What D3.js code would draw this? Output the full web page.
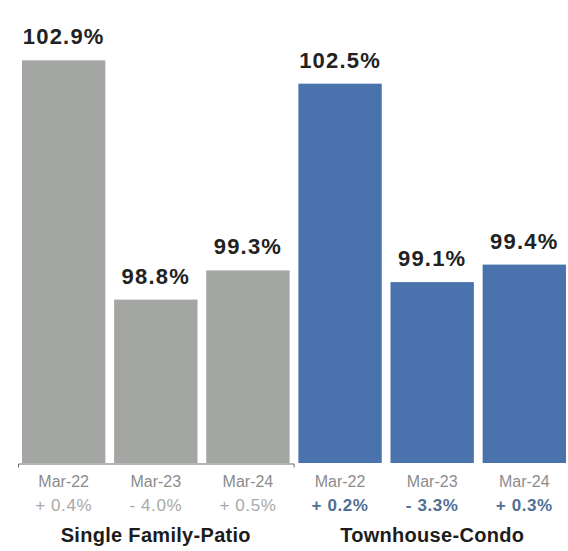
<!DOCTYPE html>
<html>
<head>
<meta charset="utf-8">
<script src="https://cdn.jsdelivr.net/npm/d3@7"></script>
<style>
  html, body { margin: 0; padding: 0; background: #fff; }
  svg { display: block; font-family: "Liberation Sans", Arial, Helvetica, sans-serif; }
</style>
</head>
<body>
<svg id="chart" width="568" height="551"></svg>
<script>
// Sale-to-list price ratio by property type, March of each year
const groups = ["Single Family-Patio", "Townhouse-Condo"];
const periods = ["Mar-22", "Mar-23", "Mar-24"];
const singleFamily = [102.9, 98.8, 99.3];
const townhouse = [102.5, 99.1, 99.4];
const singleFamilyChange = ["+ 0.4%", "- 4.0%", "+ 0.5%"];
const townhouseChange = ["+ 0.2%", "- 3.3%", "+ 0.3%"];

const groupValues = [singleFamily, townhouse];
const groupChanges = [singleFamilyChange, townhouseChange];
const groupColors = ["#a4a6a3", "#4a72ad"];
const changeStyles = [
  { fill: "#a9a9a9", weight: 400 },
  { fill: "#4f6f95", weight: 700 }
];

const rows = [];
groups.forEach((g, gi) => {
  periods.forEach((p, pi) => {
    rows.push({
      key: g + "|" + p,
      group: gi,
      period: p,
      value: groupValues[gi][pi],
      change: groupChanges[gi][pi]
    });
  });
});

const svg = d3.select("#chart");
const baseline = 463;

const x = d3.scaleBand()
  .domain(rows.map(d => d.key))
  .range([22, 566])
  .paddingInner(0.095)
  .paddingOuter(0);

const y = d3.scaleLinear()
  .domain([96, 103])
  .range([baseline, 54.5]);

// bars
svg.append("g")
  .selectAll("rect")
  .data(rows)
  .join("rect")
  .attr("x", d => x(d.key))
  .attr("y", d => y(d.value))
  .attr("width", x.bandwidth())
  .attr("height", d => baseline - y(d.value))
  .attr("fill", d => groupColors[d.group]);

// value labels above bars
svg.append("g")
  .selectAll("text")
  .data(rows)
  .join("text")
  .attr("x", d => x(d.key) + x.bandwidth() / 2)
  .attr("y", d => y(d.value) - 16)
  .attr("text-anchor", "middle")
  .attr("font-size", 22)
  .attr("font-weight", 700)
  .attr("letter-spacing", 1.2)
  .attr("fill", "#222")
  .text(d => d.value.toFixed(1) + "%");

// baseline under the first group
const firstKeys = rows.filter(d => d.group === 0).map(d => d.key);
const axisSpan = d3.scaleLinear()
  .domain([0, 1])
  .range([18, x(firstKeys[firstKeys.length - 1]) + x.bandwidth() + 4]);
const axisG = svg.append("g")
  .attr("transform", `translate(0,${baseline + 0.5})`)
  .call(d3.axisBottom(axisSpan).tickValues([]).tickSizeOuter(4));
axisG.select(".domain").attr("stroke", "#6a6a6a").attr("stroke-width", 1);

// period labels
svg.append("g")
  .selectAll("text")
  .data(rows)
  .join("text")
  .attr("x", d => x(d.key) + x.bandwidth() / 2)
  .attr("y", 487)
  .attr("text-anchor", "middle")
  .attr("font-size", 16)
  .attr("fill", "#8c8c8c")
  .text(d => d.period);

// year-over-year change labels
svg.append("g")
  .selectAll("text")
  .data(rows)
  .join("text")
  .attr("x", d => x(d.key) + x.bandwidth() / 2)
  .attr("y", 511)
  .attr("text-anchor", "middle")
  .attr("font-size", 17)
  .attr("letter-spacing", 0.6)
  .attr("font-weight", d => changeStyles[d.group].weight)
  .attr("fill", d => changeStyles[d.group].fill)
  .text(d => d.change);

// group titles
svg.append("g")
  .selectAll("text")
  .data(groups)
  .join("text")
  .attr("x", (g, gi) => {
    const keys = rows.filter(d => d.group === gi).map(d => d.key);
    return (x(keys[0]) + x(keys[keys.length - 1]) + x.bandwidth()) / 2;
  })
  .attr("y", 542)
  .attr("text-anchor", "middle")
  .attr("font-size", 20)
  .attr("font-weight", 700)
  .attr("letter-spacing", 0.3)
  .attr("fill", "#1c1c1c")
  .text(g => g);
</script>
</body>
</html>
